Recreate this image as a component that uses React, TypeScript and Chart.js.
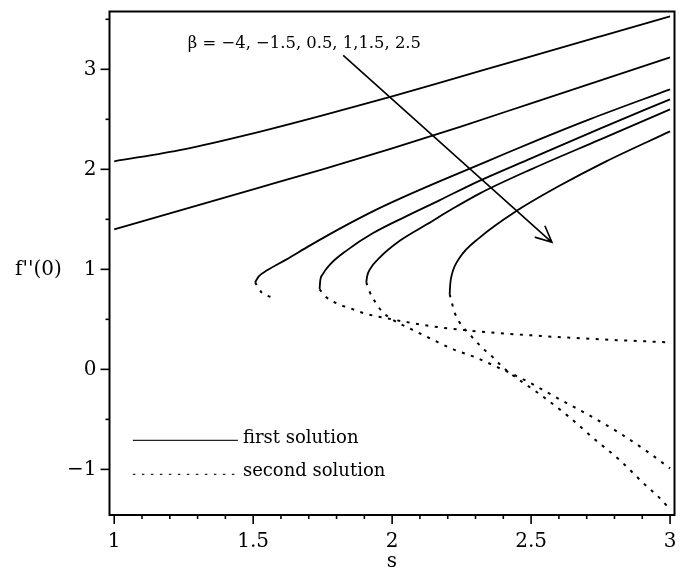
import React, { useEffect, useRef } from "react";
import { Chart, registerables } from "chart.js";

Chart.register(...registerables);

// ---- data (s, f''(0)) ----
// first solutions (solid)
const sFirstBetaM4 = [1, 1.25, 1.5, 1.75, 2, 2.25, 2.5, 2.75, 3];
const fFirstBetaM4 = [2.08, 2.2, 2.36, 2.54, 2.73, 2.93, 3.13, 3.33, 3.53];

const sFirstBetaM15 = [1, 1.25, 1.5, 1.75, 2, 2.25, 2.5, 2.75, 3];
const fFirstBetaM15 = [1.4, 1.6, 1.8, 2.0, 2.21, 2.43, 2.66, 2.89, 3.12];

const sFirstBeta05 = [1.507, 1.52, 1.55, 1.62, 1.705, 1.82, 1.945, 2.03, 2.17, 2.35, 2.53, 2.71, 3.0];
const fFirstBeta05 = [0.87, 0.93, 0.99, 1.1, 1.24, 1.42, 1.6, 1.71, 1.88, 2.09, 2.3, 2.5, 2.8];

const sFirstBeta1 = [1.739, 1.741, 1.75, 1.777, 1.837, 1.93, 2.05, 2.17, 2.31, 2.5, 2.75, 3.0];
const fFirstBeta1 = [0.8, 0.88, 0.95, 1.05, 1.19, 1.36, 1.53, 1.69, 1.88, 2.11, 2.41, 2.7];

const sFirstBeta15 = [1.907, 1.91, 1.92, 1.956, 2.03, 2.125, 2.22, 2.316, 2.5, 2.75, 3.0];
const fFirstBeta15 = [0.87, 0.93, 1.0, 1.12, 1.29, 1.45, 1.61, 1.76, 2.0, 2.3, 2.6];

const sFirstBeta25 = [2.207, 2.209, 2.215, 2.244, 2.316, 2.448, 2.592, 2.77, 3.0];
const fFirstBeta25 = [0.75, 0.85, 0.95, 1.12, 1.32, 1.585, 1.82, 2.08, 2.38];

// second solutions (dotted)
const sSecondBeta05 = [1.507, 1.53, 1.567];
const fSecondBeta05 = [0.87, 0.77, 0.72];

const sSecondBeta1 = [1.739, 1.76, 1.8, 1.85, 1.9, 2.0, 2.1, 2.2, 2.35, 2.5, 2.75, 3.0];
const fSecondBeta1 = [0.8, 0.73, 0.66, 0.61, 0.56, 0.5, 0.45, 0.41, 0.37, 0.34, 0.3, 0.27];

const sSecondBeta15 = [1.907, 1.92, 1.94, 1.963, 2.0, 2.07, 2.144, 2.22, 2.3, 2.38, 2.45, 2.5, 2.59, 2.71, 2.82, 2.917, 3.0];
const fSecondBeta15 = [0.87, 0.77, 0.67, 0.58, 0.5, 0.4, 0.3, 0.2, 0.12, 0.02, -0.07, -0.14, -0.28, -0.46, -0.64, -0.82, -0.99];

const sSecondBeta25 = [2.207, 2.226, 2.25, 2.273, 2.305, 2.334, 2.363, 2.395, 2.425, 2.527, 2.63, 2.725, 2.82, 2.905, 2.964, 3.0];
const fSecondBeta25 = [0.75, 0.56, 0.44, 0.37, 0.27, 0.19, 0.12, 0.03, -0.04, -0.24, -0.46, -0.69, -0.91, -1.14, -1.29, -1.4];

// axes
const xTickLabels = [1, 1.5, 2, 2.5, 3];
const yTickLabels = [-1, 0, 1, 2, 3];
const xRange = [0.983, 3.016];
const yRange = [-1.456, 3.578];

// annotations
const betaText = "β = −4, −1.5, 0.5, 1,1.5, 2.5";
const arrowFrom = { x: 1.824, y: 3.14 };
const arrowTo = { x: 2.575, y: 1.27 };
const legendLabels = ["first solution", "second solution"];

const SERIF = '"DejaVu Serif", serif';

function zip(s: number[], f: number[]) {
  return s.map((x, i) => ({ x, y: f[i] }));
}

function solid(s: number[], f: number[]) {
  return {
    data: zip(s, f),
    showLine: true,
    borderColor: "#000",
    borderWidth: 1.8,
    pointRadius: 0,
    cubicInterpolationMode: "monotone" as const,
  };
}

function dotted(s: number[], f: number[]) {
  return {
    data: zip(s, f),
    showLine: true,
    borderColor: "#000",
    borderWidth: 2,
    borderDash: [3, 6.5],
    pointRadius: 0,
    cubicInterpolationMode: "monotone" as const,
  };
}

function noPad(scale: any) {
  scale.paddingLeft = 0;
  scale.paddingRight = 0;
  scale.paddingTop = 0;
  scale.paddingBottom = 0;
}

const decorPlugin = {
  id: "decor",
  afterDraw(chart: any) {
    const { ctx, chartArea: a, scales } = chart;
    const xs = scales.x;
    const ys = scales.y;
    ctx.save();
    ctx.strokeStyle = "#000";
    ctx.fillStyle = "#000";
    // frame
    ctx.lineWidth = 2;
    ctx.strokeRect(a.left, a.top, a.right - a.left, a.bottom - a.top);
    // x tick marks
    ctx.lineWidth = 1.6;
    for (let i = 10; i <= 30; i++) {
      const px = xs.getPixelForValue(i / 10);
      const len = i % 5 === 0 ? 9 : 4;
      ctx.beginPath();
      ctx.moveTo(px, a.bottom);
      ctx.lineTo(px, a.bottom + len);
      ctx.stroke();
    }
    // y tick marks
    for (let i = -2; i <= 7; i++) {
      const v = i / 2;
      if (v < yRange[0] || v > yRange[1]) continue;
      const py = ys.getPixelForValue(v);
      const len = i % 2 === 0 ? 9 : 4;
      ctx.beginPath();
      ctx.moveTo(a.left, py);
      ctx.lineTo(a.left - len, py);
      ctx.stroke();
    }
    // y axis title
    ctx.font = `20px ${SERIF}`;
    ctx.textBaseline = "middle";
    ctx.textAlign = "left";
    ctx.fillText("f''(0)", 15, ys.getPixelForValue(1));
    // beta annotation
    ctx.font = `16.4px ${SERIF}`;
    ctx.fillText(betaText, xs.getPixelForValue(1.265), ys.getPixelForValue(3.26));
    // arrow
    const x0 = xs.getPixelForValue(arrowFrom.x);
    const y0 = ys.getPixelForValue(arrowFrom.y);
    const x1 = xs.getPixelForValue(arrowTo.x);
    const y1 = ys.getPixelForValue(arrowTo.y);
    ctx.lineWidth = 1.6;
    ctx.beginPath();
    ctx.moveTo(x0, y0);
    ctx.lineTo(x1, y1);
    const ang = Math.atan2(y0 - y1, x0 - x1);
    const hl = 18;
    const spread = (25 * Math.PI) / 180;
    ctx.moveTo(x1 + hl * Math.cos(ang + spread), y1 + hl * Math.sin(ang + spread));
    ctx.lineTo(x1, y1);
    ctx.lineTo(x1 + hl * Math.cos(ang - spread), y1 + hl * Math.sin(ang - spread));
    ctx.stroke();
    // legend
    const lx0 = xs.getPixelForValue(1.067);
    const lx1 = xs.getPixelForValue(1.445);
    const ly0 = ys.getPixelForValue(-0.71);
    const ly1 = ys.getPixelForValue(-1.05);
    ctx.lineWidth = 1.3;
    ctx.strokeStyle = "#222";
    ctx.beginPath();
    ctx.moveTo(lx0, ly0);
    ctx.lineTo(lx1, ly0);
    ctx.stroke();
    ctx.setLineDash([2.5, 6.5]);
    ctx.beginPath();
    ctx.moveTo(lx0, ly1);
    ctx.lineTo(lx1, ly1);
    ctx.stroke();
    ctx.setLineDash([]);
    ctx.font = `18px ${SERIF}`;
    ctx.fillStyle = "#000";
    ctx.fillText(legendLabels[0], lx1 + 5, ly0 - 2);
    ctx.fillText(legendLabels[1], lx1 + 5, ly1 - 3);
    ctx.restore();
  },
};

export default function App() {
  const ref = useRef<HTMLCanvasElement | null>(null);
  useEffect(() => {
    if (!ref.current) return;
    const chart = new Chart(ref.current, {
      type: "scatter",
      data: {
        datasets: [
          solid(sFirstBetaM4, fFirstBetaM4),
          solid(sFirstBetaM15, fFirstBetaM15),
          solid(sFirstBeta05, fFirstBeta05),
          solid(sFirstBeta1, fFirstBeta1),
          solid(sFirstBeta15, fFirstBeta15),
          solid(sFirstBeta25, fFirstBeta25),
          dotted(sSecondBeta05, fSecondBeta05),
          dotted(sSecondBeta1, fSecondBeta1),
          dotted(sSecondBeta15, fSecondBeta15),
          dotted(sSecondBeta25, fSecondBeta25),
        ] as any,
      },
      options: {
        animation: false,
        responsive: false,
        maintainAspectRatio: false,
        layout: { padding: { top: 11.5, right: 10.5, left: 0, bottom: 0 } },
        plugins: { legend: { display: false }, tooltip: { enabled: false } },
        scales: {
          x: {
            type: "linear",
            min: xRange[0],
            max: xRange[1],
            grid: { display: false, drawTicks: false },
            border: { display: false },
            afterBuildTicks: (scale: any) => {
              scale.ticks = xTickLabels.map((v) => ({ value: v }));
            },
            afterFit: (scale: any) => {
              scale.height = 66;
              noPad(scale);
            },
            ticks: {
              color: "#000",
              font: { family: SERIF, size: 20 },
              padding: 15,
              maxRotation: 0,
              autoSkip: false,
              callback: (v: any) => String(v),
            },
            title: {
              display: true,
              text: "s",
              color: "#000",
              font: { family: SERIF, size: 20 },
              padding: { top: 0, bottom: 7 },
            },
          },
          y: {
            type: "linear",
            min: yRange[0],
            max: yRange[1],
            grid: { display: false, drawTicks: false },
            border: { display: false },
            afterBuildTicks: (scale: any) => {
              scale.ticks = yTickLabels.map((v) => ({ value: v }));
            },
            afterFit: (scale: any) => {
              scale.width = 109.5;
              noPad(scale);
            },
            ticks: {
              color: "#000",
              font: { family: SERIF, size: 20 },
              padding: 13,
              autoSkip: false,
              callback: (v: any) => (v < 0 ? "−" + String(-v) : String(v)),
            },
          },
        },
      },
      plugins: [decorPlugin],
    } as any);
    return () => chart.destroy();
  }, []);
  return (
    <div style={{ position: "absolute", left: 0, top: 0, width: 685, height: 581, background: "#fff" }}>
      <canvas ref={ref} width={685} height={581} />
    </div>
  );
}
